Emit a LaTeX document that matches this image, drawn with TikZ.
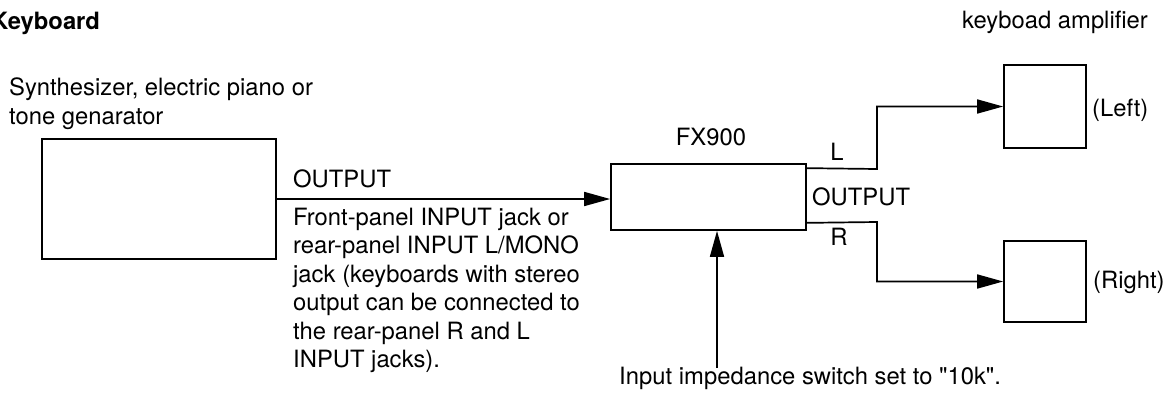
\documentclass[tikz,border=0pt]{standalone}
\usepackage{fontspec}
\setmainfont{TeX Gyre Heros}
\usepackage{tikz}
\usetikzlibrary{positioning}
\usetikzlibrary{arrows.meta}
\usetikzlibrary{calc}

\begin{document}
\begin{tikzpicture}[x=1pt,y=-1pt]
  \useasboundingbox (0,0) rectangle (1168,394);

  \def\fsize{\fontsize{23.8}{28.4}\selectfont}
  \tikzset{box common/.style={draw, line width=1.7pt, anchor=center, inner sep=0pt}}
  \tikzset{device node/.style={box common}}
  \tikzset{amp node/.style={box common, minimum width=82pt, minimum height=82pt}}
  \tikzset{label node/.style={inner sep=0pt, font=\fsize}}
  \tikzset{signal/.style={line width=1.7pt, -{Triangle[length=26pt,width=14pt]}}}

  % titles
  \node[label node, anchor=base west, font=\fsize\bfseries] (kbdtitle) at (-9,29) {Keyboard};
  \node[label node, anchor=base west] (amptitle) at (962,28) {keyboad amplifier};

  % keyboard
  \node[label node, anchor=north west, align=left] (kbdtext) at (9,78)
    {Synthesizer, electric piano or\\tone genarator};
  \node[device node, minimum width=234pt, minimum height=120pt] (kbd) at (159,199) {};

  % effect unit
  \node[device node, minimum width=195pt, minimum height=66pt] (fx) at (708.5,197) {};
  \node[label node, anchor=base] (fxname) at (711,145) {FX900};

  % amplifiers
  \node[amp node, minimum height=83pt] (ampL) at (1045,106.5) {};
  \node[amp node, minimum height=81pt] (ampR) at (1045,281.5) {};
  \node[label node, anchor=base west] (leftlbl) at (1092,116) {(Left)};
  \node[label node, anchor=base west] (rightlbl) at (1093,288) {(Right)};

  % keyboard output to FX900 input
  \draw[signal] (kbd.east) -- (kbd.east -| fx.west);
  \node[label node, anchor=base west] (kbdout) at (293,187) {OUTPUT};
  \node[label node, anchor=north west, align=left] (jacktext) at (293,208)
    {Front-panel INPUT jack or\\rear-panel INPUT L/MONO\\jack (keyboards with stereo\\output can be connected to\\the rear-panel R and L\\INPUT jacks).};

  % FX900 outputs
  \coordinate (outL) at ($(fx.north east)+(0,5)$);
  \coordinate (outR) at ($(fx.south east)+(0,-8)$);
  \coordinate (bendL) at (877,169);
  \coordinate (bendR) at (877,222);
  \draw[signal] (outL) -- (bendL) |- (ampL.west);
  \draw[signal] (outR) -- (bendR) |- (ampR.west);
  \node[label node, anchor=base] (llbl) at (837,160) {L};
  \node[label node, anchor=base west] (fxout) at (812,205) {OUTPUT};
  \node[label node, anchor=base] (rlbl) at (839,245) {R};

  % impedance switch
  \coordinate (switch) at (717,368);
  \draw[signal] (switch) -- (switch |- fx.south);
  \node[label node, anchor=base west] (switchtext) at (619,384)
    {Input impedance switch set to \textquotedbl10k\textquotedbl.};
\end{tikzpicture}
\end{document}
